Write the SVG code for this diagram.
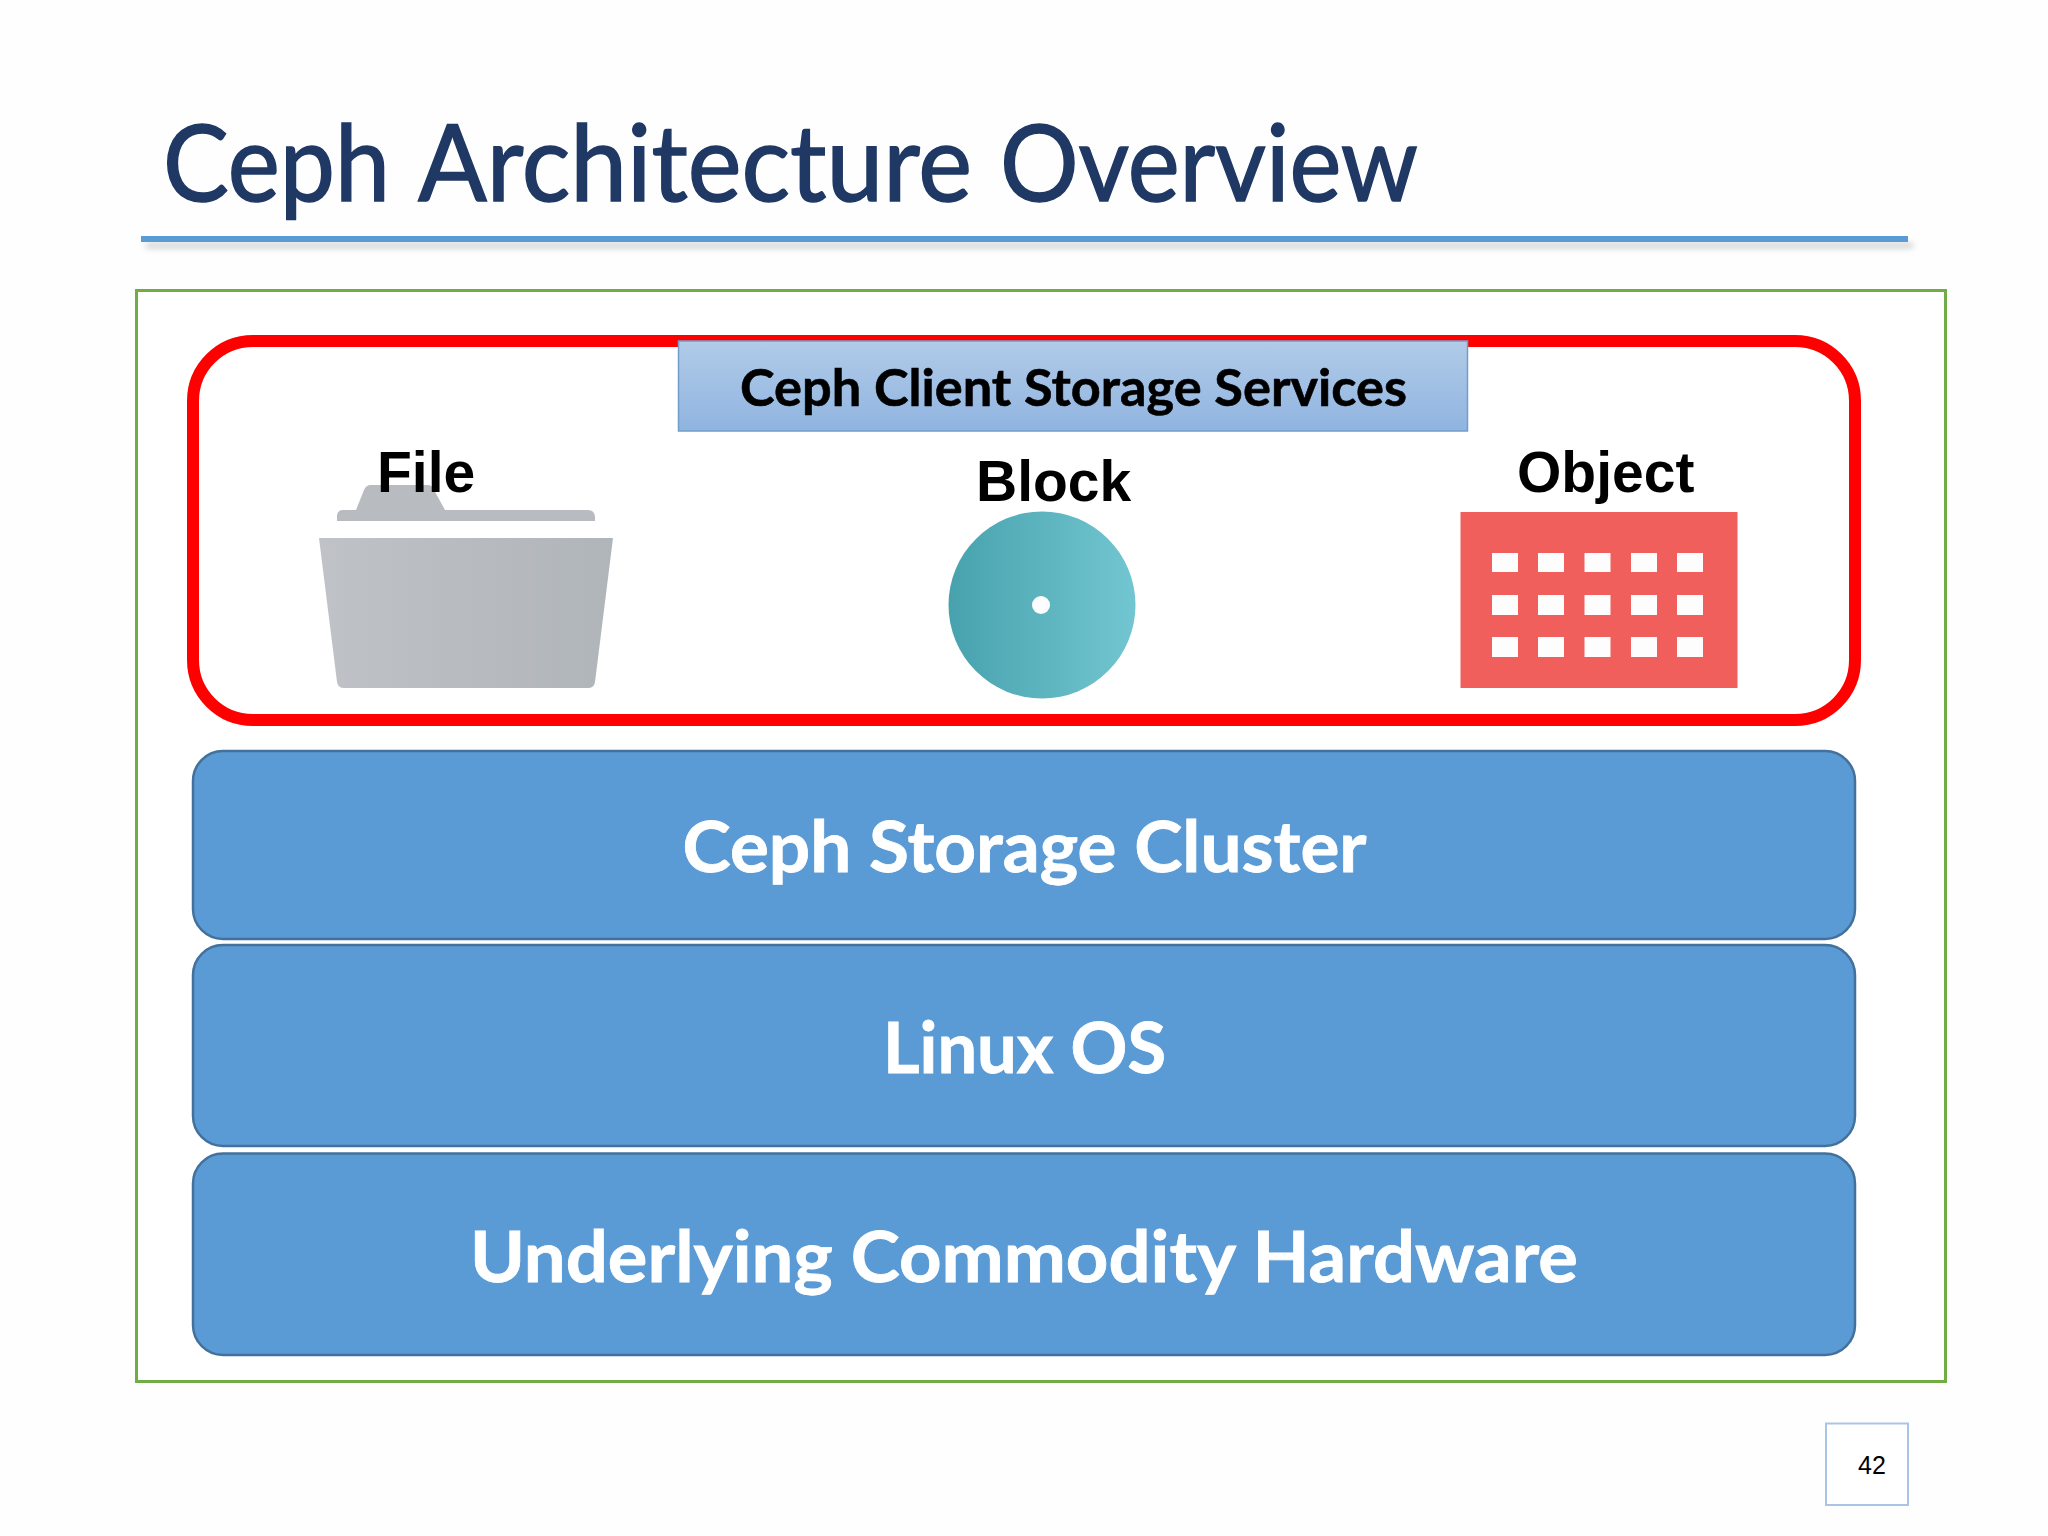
<svg xmlns="http://www.w3.org/2000/svg" width="2048" height="1536" viewBox="0 0 2048 1536">
<style>
.layer{fill:#5b9bd5;stroke:#41719c;stroke-width:2.5}
.lt{font-family:"Lato","Noto Sans",sans-serif;font-weight:700;font-size:71px;fill:#fff;stroke:#fff;stroke-width:.8}
.icon{font-family:"Liberation Sans",Arial,sans-serif;font-weight:700;font-size:57px;fill:#000}
.cell{fill:#fdfdfd}
</style>
<defs>
<linearGradient id="lbl" x1="0" y1="0" x2="0" y2="1"><stop offset="0" stop-color="#b1cbe8"/><stop offset="1" stop-color="#90b4e0"/></linearGradient>
<linearGradient id="fold" x1="0" y1="0" x2="1" y2="0"><stop offset="0" stop-color="#bfc2c7"/><stop offset="1" stop-color="#b0b5ba"/></linearGradient>
<linearGradient id="disc" x1="0" y1="0" x2="1" y2="0"><stop offset="0" stop-color="#47a2ad"/><stop offset="1" stop-color="#72c6d1"/></linearGradient>
<filter id="sh" x="-2%" y="-200%" width="104%" height="500%"><feGaussianBlur stdDeviation="3"/></filter>
</defs>
<rect width="2048" height="1536" fill="#fefefe"/>
<g id="title">
<text y="201" font-family="Lato,'Noto Sans',sans-serif" font-size="106" fill="#1f3864" stroke="#1f3864" stroke-width="1.500" lengthAdjust="spacingAndGlyphs"><tspan x="163" textLength="227" lengthAdjust="spacingAndGlyphs">Ceph</tspan> <tspan x="418" textLength="554" lengthAdjust="spacingAndGlyphs">Architecture</tspan> <tspan x="1000" textLength="418" lengthAdjust="spacingAndGlyphs">Overview</tspan></text>
<rect x="146" y="243" width="1767" height="5" fill="#9aa5a5" opacity=".55" filter="url(#sh)"/>
<rect x="141" y="236" width="1767" height="6" fill="#5b9bd5"/>
</g>
<g id="frame"><rect x="136.500" y="290.500" width="1809" height="1091" fill="#fff" stroke="#70ad47" stroke-width="3"/></g>
<g id="client-services">
<rect x="193" y="341" width="1662" height="379" rx="60" fill="#fff" stroke="#ff0000" stroke-width="12"/>
<rect x="678.500" y="341" width="789" height="90" fill="url(#lbl)" stroke="#6f9fc9" stroke-width="1.500"/>
<text x="740" y="406" font-family="Lato,'Noto Sans',sans-serif" font-weight="700" font-size="52" fill="#000" stroke="#000" stroke-width=".6" textLength="667" lengthAdjust="spacingAndGlyphs">Ceph Client Storage Services</text>
</g>
<g id="file">
<path d="M337 521V515Q338 510 343 510H356L364 490Q366 485 371 485H428Q432 485 434 490L445 510H588Q594 510 595 516V521Z" fill="#b8bcc1"/>
<path d="M319 538H613L595 682Q594 688 588 688H344Q338 688 337 682Z" fill="url(#fold)"/>
<text class="icon" x="377" y="492">File</text>
</g>
<g id="block">
<circle cx="1042" cy="605" r="93.500" fill="url(#disc)"/>
<circle cx="1041" cy="605" r="9" fill="#fdfdfd"/>
<text class="icon" x="976" y="501">Block</text>
</g>
<g id="object">
<rect x="1460.500" y="512" width="277" height="176" fill="#f15f5c"/>
<g class="cell">
<rect x="1492" y="553" width="26" height="19"/><rect x="1538" y="553" width="26" height="19"/><rect x="1584.500" y="553" width="26" height="19"/><rect x="1631" y="553" width="26" height="19"/><rect x="1677" y="553" width="26" height="19"/>
<rect x="1492" y="595" width="26" height="20"/><rect x="1538" y="595" width="26" height="20"/><rect x="1584.500" y="595" width="26" height="20"/><rect x="1631" y="595" width="26" height="20"/><rect x="1677" y="595" width="26" height="20"/>
<rect x="1492" y="637" width="26" height="20"/><rect x="1538" y="637" width="26" height="20"/><rect x="1584.500" y="637" width="26" height="20"/><rect x="1631" y="637" width="26" height="20"/><rect x="1677" y="637" width="26" height="20"/>
</g>
<text class="icon" x="1517" y="492">Object</text>
</g>
<g id="storage-cluster">
<rect class="layer" x="193" y="751" width="1662" height="188" rx="30"/>
<text class="lt" x="682.500" y="872" textLength="684" lengthAdjust="spacingAndGlyphs">Ceph Storage Cluster</text>
</g>
<g id="linux-os">
<rect class="layer" x="193" y="945" width="1662" height="201" rx="30"/>
<text class="lt" x="883" y="1073" textLength="283" lengthAdjust="spacingAndGlyphs">Linux OS</text>
</g>
<g id="hardware">
<rect class="layer" x="193" y="1153.500" width="1662" height="201.500" rx="30"/>
<text class="lt" x="470" y="1282" textLength="1108" lengthAdjust="spacingAndGlyphs">Underlying Commodity Hardware</text>
</g>
<g id="page-number">
<rect x="1826" y="1423.500" width="82" height="81.500" fill="#fff" stroke="#a9c5e6" stroke-width="2"/>
<text x="1872" y="1474" text-anchor="middle" font-family="'Liberation Sans',Arial,sans-serif" font-size="25" fill="#000">42</text>
</g>
<g id="connectors"/>
</svg>
